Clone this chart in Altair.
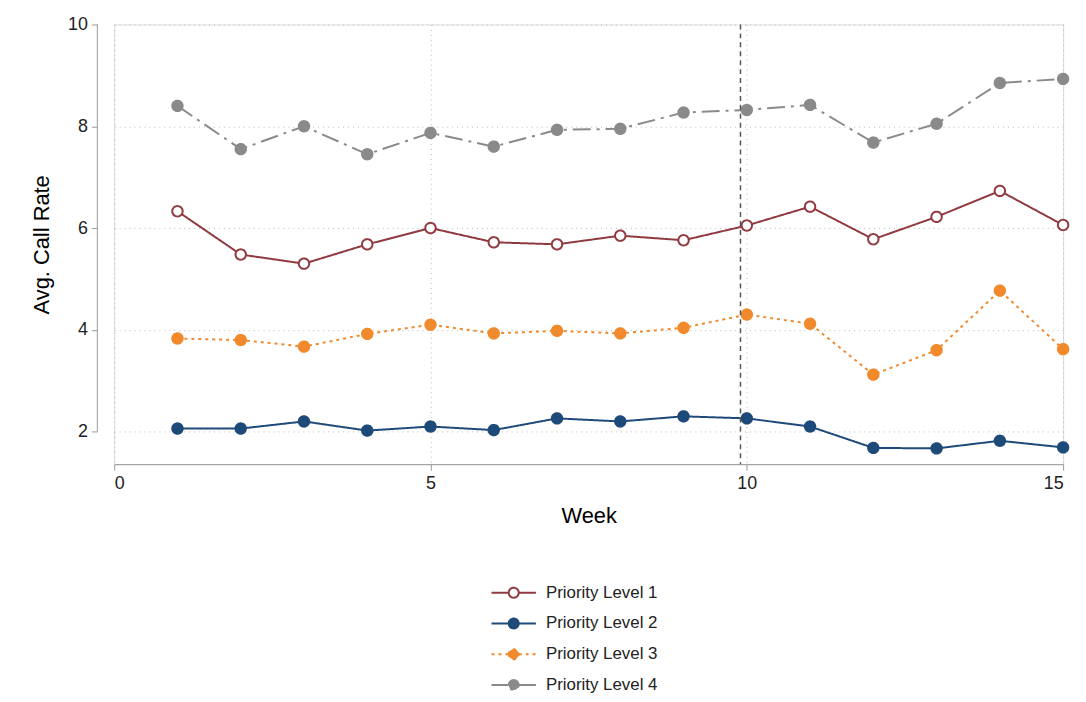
import pandas as pd
import altair as alt

weeks = list(range(1, 16))
level1 = [6.33, 5.48, 5.30, 5.68, 6.00, 5.72, 5.68, 5.85, 5.76, 6.05, 6.42, 5.78, 6.22, 6.73, 6.06]
level2 = [2.06, 2.06, 2.20, 2.02, 2.10, 2.03, 2.26, 2.20, 2.30, 2.26, 2.10, 1.68, 1.67, 1.82, 1.69]
level3 = [3.83, 3.80, 3.67, 3.92, 4.10, 3.93, 3.98, 3.93, 4.04, 4.30, 4.12, 3.12, 3.60, 4.77, 3.62]
level4 = [8.40, 7.55, 8.00, 7.45, 7.87, 7.60, 7.93, 7.95, 8.27, 8.32, 8.42, 7.68, 8.05, 8.85, 8.93]

names = ['Priority Level 1', 'Priority Level 2', 'Priority Level 3', 'Priority Level 4']
colors = ['#903a3f', '#1e4a7a', '#f08a2c', '#8a8a8a']
fills = ['white', '#1e4a7a', '#f08a2c', '#8a8a8a']
dashes = [[1, 0], [1, 0], [3, 4], [18, 6, 3, 6]]

rows = []
for name, vals in zip(names, [level1, level2, level3, level4]):
    for w, v in zip(weeks, vals):
        rows.append({'week': w, 'rate': v, 'level': name})
df = pd.DataFrame(rows)

font = 'Liberation Sans'
x = alt.X('week:Q', title='Week', scale=alt.Scale(domain=[0, 15], nice=False),
          axis=alt.Axis(values=[0, 5, 10, 15], format='d', gridDash=[1, 4], gridColor='#bbbbbb',
                        domainColor='#999999', tickColor='#999999', tickSize=6,
                        labelFontSize=18, titleFontSize=22, titleFontWeight='normal',
                        titlePadding=14, labelPadding=4, labelColor='#222222'))
y = alt.Y('rate:Q', title='Avg. Call Rate', scale=alt.Scale(domain=[1.36, 10], nice=False, zero=False),
          axis=alt.Axis(values=[2, 4, 6, 8, 10], format='d', gridDash=[1, 4], gridColor='#bbbbbb',
                        domain=False, offset=17, tickColor='#999999', tickSize=6,
                        labelFontSize=18, titleFontSize=22, titleFontWeight='normal',
                        titlePadding=14, labelPadding=4, labelColor='#222222'))

legend_symbol = 'M-2,0L-0.45,0M0.45,0L2,0M-0.45,0A0.45,0.45 0 1,1 0.45,0A0.45,0.45 0 1,1 -0.45,0Z'
col = alt.Color('level:N', scale=alt.Scale(domain=names, range=colors),
                legend=alt.Legend(title=None, orient='none', legendX=390, legendY=560,
                                  direction='vertical', labelFontSize=17, labelColor='#222222',
                                  symbolType=legend_symbol, symbolSize=500, symbolStrokeWidth=2,
                                  rowPadding=9, labelOffset=20))
fil = alt.Fill('level:N', scale=alt.Scale(domain=names, range=fills), legend=None)
dash = alt.StrokeDash('level:N', scale=alt.Scale(domain=names, range=dashes), legend=None)

lines = alt.Chart(df).mark_line(strokeWidth=2).encode(
    x=x, y=y, color=col, strokeDash=dash,
)
points = alt.Chart(df).mark_point(size=110, strokeWidth=2, opacity=1).encode(
    x=x, y=y, color=col, fill=fil, strokeDash=alt.value([1, 0]),
)
vline = alt.Chart(pd.DataFrame({'week': [9.9]})).mark_rule(
    color='#555555', strokeDash=[5, 4], strokeWidth=1.5).encode(x=x)
yaxis = alt.Chart(pd.DataFrame({'a': [0]})).mark_rule(color='#999999').encode(
    x=alt.value(-17), y=alt.datum(2), y2=alt.datum(10))

chart = alt.layer(lines, points, vline, yaxis).properties(
    width=956, height=443, padding={'left': 22, 'top': 5, 'right': 5, 'bottom': 5}
).configure_view(stroke=None).configure(font=font)

chart.save("out.html", embed_options={"renderer": "svg", "actions": False})
